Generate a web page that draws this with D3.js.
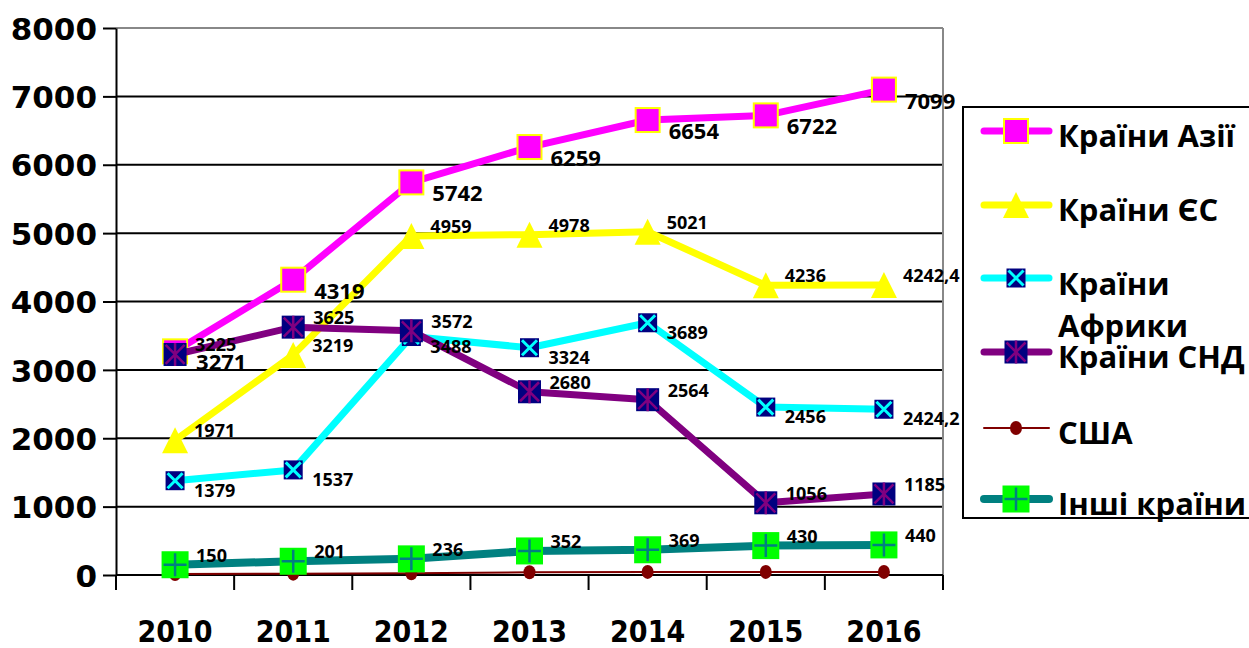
<!DOCTYPE html>
<html>
<head>
<meta charset="utf-8">
<script src="https://cdn.jsdelivr.net/npm/d3@7"></script>
<style>
  body { margin: 0; background: #fff; }
  svg { display: block; }
  .ylab { font-family: "DejaVu Sans", sans-serif; font-weight: bold; font-size: 31px; }
  .xlab { font-family: "DejaVu Sans Condensed", "DejaVu Sans", sans-serif; font-weight: bold; font-size: 30px; font-stretch: condensed; }
  .dlab { font-family: "Open Sans", sans-serif; font-weight: bold; }
  .leg { font-family: "Open Sans", sans-serif; font-weight: bold; font-size: 31px; }
</style>
</head>
<body>
<script>
// chart data
const years = ["2010", "2011", "2012", "2013", "2014", "2015", "2016"];
const yTicks = [0, 1000, 2000, 3000, 4000, 5000, 6000, 7000, 8000];

const asia = [3271, 4319, 5742, 6259, 6654, 6722, 7099];
const eu = [1971, 3219, 4959, 4978, 5021, 4236, 4242.4];
const africa = [1379, 1537, 3488, 3324, 3689, 2456, 2424.2];
const cis = [3225, 3625, 3572, 2680, 2564, 1056, 1185];
const usa = [15, 20, 25, 40, 45, 45, 45];
const other = [150, 201, 236, 352, 369, 430, 440];

const names = ["Країни Азії", "Країни ЄС", "Країни Африки", "Країни СНД", "США", "Інші країни"];

// drawing styles, one per series
const series = [
  { name: names[0], values: asia, color: "#ff00ff", width: 7, marker: "square", labels: true, dx: 21, dy: 19, fs: 22 },
  { name: names[1], values: eu, color: "#ffff00", width: 7, marker: "triangle", labels: true, dx: 19, dy: -3, fs: 18 },
  { name: names[2], values: africa, color: "#00ffff", width: 7, marker: "xbox", labels: true, dx: 19, dy: 16, fs: 18 },
  { name: names[3], values: cis, color: "#800080", width: 7, marker: "star", labels: true, dx: 20, dy: -3, fs: 18 },
  { name: names[4], values: usa, color: "#800000", width: 2, marker: "circle", labels: false },
  { name: names[5], values: other, color: "#008080", width: 8, marker: "plus", labels: true, dx: 21, dy: -3, fs: 18 }
];

const W = 1249, H = 648;
const plotL = 116, plotR = 943, plotT = 28, plotB = 575;

const svg = d3.select("body").append("svg").attr("width", W).attr("height", H);

const x = d3.scaleBand().domain(years).range([plotL, plotR]).padding(0);
const y = d3.scaleLinear().domain([0, 8000]).range([plotB, plotT]);
const cx = d => x(d) + x.bandwidth() / 2;

// gridlines
svg.append("g").selectAll("line")
  .data(yTicks.filter(t => t > 0))
  .enter().append("line")
  .attr("x1", plotL).attr("x2", plotR)
  .attr("y1", d => y(d)).attr("y2", d => y(d))
  .attr("stroke", d => d === 8000 ? "#888" : "#000")
  .attr("stroke-width", 2);

// right border of plot
svg.append("line")
  .attr("x1", plotR).attr("x2", plotR).attr("y1", plotT).attr("y2", plotB)
  .attr("stroke", "#888").attr("stroke-width", 2);

// y axis
const yAxis = svg.append("g")
  .attr("transform", "translate(" + plotL + ",0)")
  .call(d3.axisLeft(y).tickValues(yTicks).tickFormat(d3.format("d"))
    .tickSize(13).tickSizeOuter(0).tickPadding(6));
yAxis.select(".domain").attr("stroke", "#000").attr("stroke-width", 2);
yAxis.selectAll(".tick line").attr("stroke", "#000").attr("stroke-width", 2);
yAxis.selectAll(".tick text").attr("class", "ylab").attr("fill", "#000").attr("dy", "0.36em");

// x axis: ticks at category boundaries
const xg = svg.append("g");
xg.append("line")
  .attr("x1", plotL).attr("x2", plotR).attr("y1", plotB).attr("y2", plotB)
  .attr("stroke", "#000").attr("stroke-width", 2);
xg.append("line")
  .attr("x1", plotL).attr("x2", plotL).attr("y1", plotB).attr("y2", plotB + 15)
  .attr("stroke", "#000").attr("stroke-width", 2);
xg.selectAll(".xt")
  .data(years)
  .enter().append("line")
  .attr("x1", d => x(d) + x.bandwidth()).attr("x2", d => x(d) + x.bandwidth())
  .attr("y1", plotB).attr("y2", plotB + 15)
  .attr("stroke", "#000").attr("stroke-width", 2);
xg.selectAll(".xlab")
  .data(years)
  .enter().append("text")
  .attr("class", "xlab")
  .attr("x", cx).attr("y", 642)
  .attr("text-anchor", "middle")
  .text(d => d);

function drawMarker(g, type, color, s) {
  if (type === "square") {
    g.append("rect").attr("x", -12 * s).attr("y", -12 * s).attr("width", 24 * s).attr("height", 24 * s)
      .attr("fill", "#ff00ff").attr("stroke", "#ffff00").attr("stroke-width", 2);
  } else if (type === "triangle") {
    const r = 13 * s;
    g.append("path").attr("d", "M0," + (-r) + "L" + r + "," + r + "L" + (-r) + "," + r + "Z")
      .attr("fill", "#ffff00");
  } else if (type === "xbox") {
    const r = 9.5 * s;
    g.append("rect").attr("x", -r).attr("y", -r).attr("width", 2 * r).attr("height", 2 * r).attr("fill", "#000080");
    g.append("path").attr("d", "M" + (-r + 2) + "," + (-r + 2) + "L" + (r - 2) + "," + (r - 2) + "M" + (r - 2) + "," + (-r + 2) + "L" + (-r + 2) + "," + (r - 2))
      .attr("stroke", "#00ffff").attr("stroke-width", 3);
  } else if (type === "star") {
    const r = 11.5 * s;
    g.append("rect").attr("x", -r).attr("y", -r).attr("width", 2 * r).attr("height", 2 * r).attr("fill", "#000080");
    g.append("path").attr("d", "M" + (-r + 2) + "," + (-r + 2) + "L" + (r - 2) + "," + (r - 2) + "M" + (r - 2) + "," + (-r + 2) + "L" + (-r + 2) + "," + (r - 2) + "M0," + (-r) + "L0," + r)
      .attr("stroke", "#800080").attr("stroke-width", 2.5);
  } else if (type === "circle") {
    g.append("ellipse").attr("rx", 6 * s).attr("ry", 7 * s).attr("fill", "#800000");
  } else if (type === "plus") {
    const r = 13.5 * s;
    g.append("rect").attr("x", -r).attr("y", -r).attr("width", 2 * r).attr("height", 2 * r).attr("fill", "#00ff00");
    g.append("path").attr("d", "M" + (-r + 2) + ",0L" + (r - 2) + ",0M0," + (-r + 2) + "L0," + (r - 2))
      .attr("stroke", "#008080").attr("stroke-width", 2.5);
  }
}

const line = d3.line().x((d, i) => cx(years[i])).y(d => y(d));

series.forEach(s => {
  const g = svg.append("g");
  g.append("path")
    .datum(s.values)
    .attr("d", line)
    .attr("fill", "none")
    .attr("stroke", s.color)
    .attr("stroke-width", s.width)
    .attr("stroke-linejoin", "round")
    .attr("stroke-linecap", "round");
  g.selectAll(".m")
    .data(s.values)
    .enter().append("g")
    .attr("transform", (d, i) => "translate(" + cx(years[i]) + "," + y(d) + ")")
    .each(function () { drawMarker(d3.select(this), s.marker, s.color, 1); });
});

// data labels on top
series.filter(s => s.labels).forEach(s => {
  svg.append("g").selectAll("text")
    .data(s.values)
    .enter().append("text")
    .attr("class", "dlab")
    .style("font-size", s.fs + "px")
    .attr("x", (d, i) => cx(years[i]) + s.dx)
    .attr("y", d => y(d) + s.dy)
    .text(d => String(d).replace(".", ","));
});

// legend
const lg = svg.append("g");
lg.append("rect")
  .attr("x", 963).attr("y", 107).attr("width", 300).attr("height", 411)
  .attr("fill", "#fff").attr("stroke", "#000").attr("stroke-width", 2);

const legY = [131, 205, 278, 352, 428, 499];
series.forEach((s, i) => {
  const ly = legY[i];
  lg.append("line")
    .attr("x1", 984).attr("x2", 1049).attr("y1", ly).attr("y2", ly)
    .attr("stroke", s.color).attr("stroke-width", s.width)
    .attr("stroke-linecap", "round");
  const mg = lg.append("g").attr("transform", "translate(1016," + ly + ")");
  drawMarker(mg, s.marker, s.color, 1);
  const t = lg.append("text").attr("class", "leg").attr("x", 1058);
  if (i === 2) {
    t.append("tspan").attr("x", 1058).attr("y", 295).text("Країни");
    t.append("tspan").attr("x", 1058).attr("y", 337).text("Африки");
  } else {
    t.attr("y", ly + 16).text(s.name);
  }
});
</script>
</body>
</html>
